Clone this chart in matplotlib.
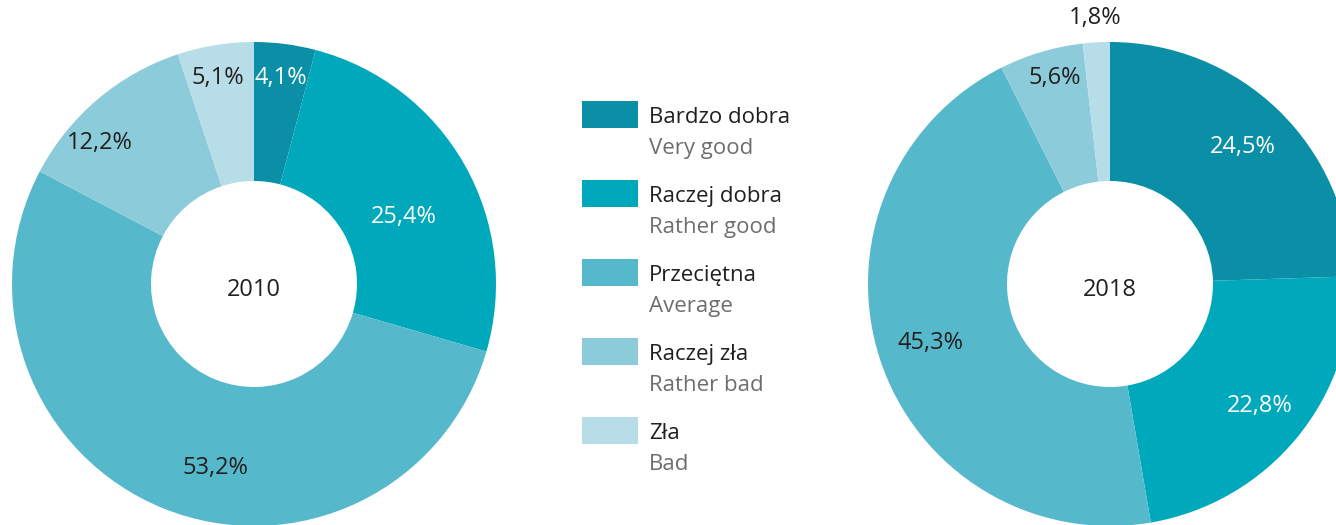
import matplotlib
matplotlib.use('Agg')
import matplotlib.pyplot as plt
from matplotlib.patches import Rectangle
import numpy as np

# ---- data ----
categories_pl = ['Bardzo dobra', 'Raczej dobra', 'Przeciętna', 'Raczej zła', 'Zła']
categories_en = ['Very good', 'Rather good', 'Average', 'Rather bad', 'Bad']
values_2010 = [4.1, 25.4, 53.2, 12.2, 5.1]
values_2018 = [24.5, 22.8, 45.3, 5.6, 1.8]
years = ['2010', '2018']

# ---- style ----
colors = ['#0a8fa6', '#00a8bc', '#56b9cb', '#8bcbda', '#b6dde8']
label_colors = ['white', 'white', '#231f20', '#231f20', '#231f20']
FONT = 'Open Sans'
plt.rcParams['font.family'] = [FONT, 'DejaVu Sans']

W, H = 1336, 525
fig = plt.figure(figsize=(W / 100, H / 100), dpi=100)
ax = fig.add_axes([0, 0, 1, 1])

R = 242
WIDTH = 139
centers = [(254, H - 284), (1110, H - 284)]
# label layout: radius fraction and angle nudge (deg) per slice
label_r = [[0.857, 0.68, 0.777, 0.864, 0.864],
           [0.79, 0.80, 0.78, 0.88, 1.10]]
label_nudge = [[0, -5.5, 10, 7.4, 0.8],
               [0, 0, 0, -1.5, 0]]

for k, vals in enumerate([values_2010, values_2018]):
    cx, cy = centers[k]
    ax.pie(vals, colors=colors, startangle=90, counterclock=False,
           radius=R, center=(cx, cy),
           wedgeprops=dict(width=WIDTH, linewidth=0))
    cum = np.cumsum([0] + list(vals))
    for i, v in enumerate(vals):
        mid = 90 - (cum[i] + v / 2) * 3.6 + label_nudge[k][i]
        rr = label_r[k][i] * R
        x = cx + rr * np.cos(np.radians(mid))
        y = cy + rr * np.sin(np.radians(mid))
        ax.text(x, y, f"{v:.1f}%".replace('.', ','), ha='center', va='center',
                fontsize=17, color=label_colors[i])
    ax.text(cx, cy - 6, years[k], ha='center', va='center', fontsize=17,
            color='#231f20')

# legend
for i in range(len(categories_pl)):
    top = 101 + i * 79
    ax.add_patch(Rectangle((582, H - top - 27), 56, 27, color=colors[i], lw=0))
    ax.text(649, H - (top + 22), categories_pl[i], ha='left', va='baseline',
            fontsize=16, color='#231f20')
    ax.text(649, H - (top + 53), categories_en[i], ha='left', va='baseline',
            fontsize=16, color='#6d6e71')

ax.set_xlim(0, W)
ax.set_ylim(0, H)
ax.set_aspect('auto')
ax.axis('off')
fig.savefig('out.png', dpi=100, facecolor='white')
